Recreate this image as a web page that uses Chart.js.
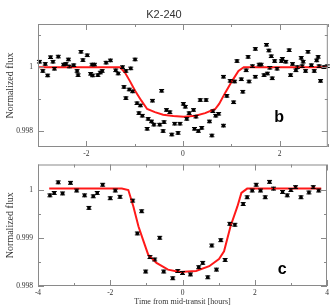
<!DOCTYPE html>
<html>
<head>
<meta charset="utf-8">
<script src="https://cdn.jsdelivr.net/npm/chart.js@4.4.0/dist/chart.umd.min.js"></script>
<style>
  html, body { margin: 0; padding: 0; background: #fff; }
  #wrap { position: relative; width: 333px; height: 307px; overflow: hidden; }
  canvas { position: absolute; left: 0; }
</style>
</head>
<body>
<div id="wrap">
  <canvas id="chartB" width="333" height="160" style="top:0px"></canvas>
  <canvas id="chartC" width="333" height="152" style="top:155px"></canvas>
</div>
<script>
const title = "K2-240";
const yTitle = "Normalized flux";
const xTitle = "Time from mid-transit [hours]";

// panel b: observed points
const timeB = [-2.97, -2.90, -2.85, -2.80, -2.74, -2.69, -2.66, -2.58, -2.47, -2.42, -2.37, -2.35, -2.26, -2.19, -2.17,
  -2.11, -2.07, -1.98, -1.91, -1.88, -1.83, -1.87, -1.76, -1.71, -1.67, -1.59, -1.50, -1.39, -1.34, -1.25,
  -1.22, -1.18, -1.18, -1.11, -1.08, -1.04, -0.99, -0.95, -0.91, -0.88, -0.84, -0.74, -0.72, -0.65, -0.63,
  -0.60, -0.48, -0.44, -0.41, -0.39, -0.34, -0.27, -0.23, -0.17, -0.10, -0.06, 0.01, 0.05, 0.08, 0.13,
  0.22, 0.24, 0.27, 0.32, 0.36, 0.39, 0.48, 0.55, 0.60, 0.62, 0.68, 0.74, 0.84, 0.84, 0.91,
  0.98, 1.05, 1.07, 1.12, 1.21, 1.24, 1.31, 1.35, 1.37, 1.44, 1.50, 1.50, 1.58, 1.62, 1.68,
  1.73, 1.75, 1.78, 1.80, 1.83, 1.85, 1.90, 1.95, 2.04, 2.06, 2.13, 2.20, 2.23, 2.27, 2.34,
  2.37, 2.45, 2.47, 2.49, 2.54, 2.59, 2.66, 2.72, 2.77, 2.80, 2.82, 2.85, 2.92, 2.99];
const fluxB = [1.00017, 0.99988, 1.00010, 0.99974, 1.00031, 1.00017, 0.99995, 1.00033, 1.00008, 1.00010, 1.00024, 1.00002, 1.00006, 0.99988, 0.99975,
  1.00048, 1.00022, 1.00037, 0.99979, 1.00008, 1.00008, 0.99974, 0.99975, 0.99983, 0.99988, 1.00014, 1.00021, 0.99990, 0.99980, 1.00000,
  0.99938, 0.99988, 0.99903, 0.99930, 0.99996, 0.99924, 1.00024, 0.99887, 0.99856, 0.99880, 0.99848, 0.99807, 0.99838, 0.99830, 0.99895,
  0.99820, 0.99820, 0.99926, 0.99800, 0.99828, 0.99866, 0.99859, 0.99789, 0.99823, 0.99794, 0.99823, 0.99885, 0.99876, 0.99838, 0.99856,
  0.99866, 0.99807, 0.99845, 0.99800, 0.99897, 0.99810, 0.99897, 0.99830, 0.99786, 0.99862, 0.99848, 0.99854, 0.99817, 0.99970, 0.99910,
  0.99957, 0.99890, 0.99955, 1.00019, 0.99962, 0.99923, 0.99990, 1.00032, 0.99955, 1.00003, 1.00057, 0.99970, 1.00008, 1.00008, 0.99975,
  1.00070, 0.99980, 1.00052, 0.99998, 1.00034, 0.99965, 1.00019, 0.99995, 1.00019, 1.00026, 1.00017, 1.00053, 0.99975, 1.00010, 0.99990,
  1.00000, 1.00029, 1.00003, 1.00017, 0.99988, 1.00048, 1.00006, 0.99988, 1.00021, 1.00032, 1.00003, 0.99957, 1.00000, 1.00003];
// panel b: transit model
const modelTimeB = [-3, -1.31, -1.20, -1.10, -0.99, -0.86, -0.74, -0.58, -0.41, -0.20, 0.02, 0.26, 0.46, 0.67, 0.75, 0.88, 1.02, 1.15, 1.26, 3];
const modelFluxB = [1.0, 1.0, 0.99983, 0.99957, 0.99926, 0.99895, 0.99869, 0.99859, 0.99851, 0.99847, 0.99845, 0.99848, 0.99856, 0.99869, 0.99885, 0.99921, 0.99957, 0.99988, 1.0, 1.0];
const errB = 0.00004;

// panel c: observed points
const timeC = [-3.67, -3.55, -3.44, -3.32, -3.10, -2.93, -2.71, -2.59, -2.47, -2.36, -2.21, -2.00, -1.86, -1.73, -1.38,
  -1.25, -1.13, -1.02, -0.90, -0.77, -0.63, -0.52, -0.27, -0.13, 0.00, 0.22, 0.45, 0.56, 0.70, 0.81,
  0.94, 1.06, 1.18, 1.31, 1.45, 1.68, 1.79, 1.93, 2.04, 2.16, 2.29, 2.41, 2.52, 2.77, 2.90,
  3.00, 3.13, 3.28, 3.50, 3.62, 3.77];
const fluxC = [0.99988, 0.99993, 1.00015, 0.99992, 1.00014, 0.99998, 0.99988, 0.99962, 0.99986, 0.99993, 1.00010, 0.99982, 0.99998, 0.99985, 0.99977,
  0.99909, 0.99955, 0.99830, 0.99860, 0.99855, 0.99900, 0.99830, 0.99816, 0.99831, 0.99827, 0.99824, 0.99839, 0.99848, 0.99818, 0.99884,
  0.99834, 0.99895, 0.99854, 0.99929, 0.99927, 0.99970, 0.99984, 0.99998, 1.00010, 0.99998, 0.99984, 1.00016, 1.00002, 0.99995, 0.99988,
  0.99999, 1.00005, 0.99984, 0.99994, 1.00005, 0.99998];
// panel c: transit model
const modelTimeC = [-3.69, -1.68, -1.50, -1.36, -1.22, -1.08, -0.95, -0.72, -0.40, -0.08, 0.375, 0.74, 1.01, 1.15, 1.33, 1.52, 1.63, 1.79, 3.84];
const modelFluxC = [1.00002, 1.00002, 0.99999, 0.99965, 0.99924, 0.99893, 0.99865, 0.99848, 0.99834, 0.99829, 0.99831, 0.99841, 0.99856, 0.99872, 0.99924, 0.99965, 0.99993, 1.00002, 1.00002];
const errC = 0.00003;

// ticks
const xTicksB = [-3, -2, -1, 0, 1, 2, 3];
const xLabelsB = ["", "-2", "", "0", "", "2", ""];
const yTicksB = [0.998, 0.999, 1, 1.001];
const yLabelsB = ["0.998", "", "1", ""];
const xTicksC = [-4, -3, -2, -1, 0, 1, 2, 3, 4];
const xLabelsC = ["-4", "", "-2", "", "0", "", "2", "", "4"];
const yTicksC = [0.998, 0.9985, 0.999, 0.9995, 1];
const yLabelsC = ["0.998", "", "0.999", "", "1"];

const serif = "'Liberation Serif', 'DejaVu Serif', serif";
const sans = "'Liberation Sans', Arial, sans-serif";

// frame, inward tick marks, error bar caps and panel letter
const decor = {
  id: "decor",
  afterDatasetsDraw(chart, args, opts) {
    const { ctx, chartArea: a, scales } = chart;
    const x = scales.x, y = scales.y;
    ctx.save();
    // error bars on observed points
    const meta = chart.getDatasetMeta(0);
    const vals = chart.data.datasets[0].data;
    ctx.strokeStyle = "#000";
    ctx.lineWidth = 1;
    ctx.beginPath();
    meta.data.forEach((el, i) => {
      const yt = y.getPixelForValue(vals[i].y + opts.err);
      const yb = y.getPixelForValue(vals[i].y - opts.err);
      ctx.moveTo(el.x, yt); ctx.lineTo(el.x, yb);
      ctx.moveTo(el.x - 2.5, yt); ctx.lineTo(el.x + 2.5, yt);
      ctx.moveTo(el.x - 2.5, yb); ctx.lineTo(el.x + 2.5, yb);
    });
    ctx.stroke();

    ctx.strokeStyle = "#8a8a8a";
    ctx.strokeRect(a.left + 0.5, a.top + 0.5, a.right - a.left - 1, a.bottom - a.top - 1);
    ctx.beginPath();
    x.ticks.forEach((t, i) => {
      const len = opts.xLabels[i] ? 6 : 3;
      const px = Math.round(x.getPixelForValue(t.value)) + 0.5;
      ctx.moveTo(px, a.bottom); ctx.lineTo(px, a.bottom - len);
      ctx.moveTo(px, a.top); ctx.lineTo(px, a.top + len);
    });
    y.ticks.forEach((t, i) => {
      const len = opts.yLabels[i] ? 6 : 3;
      const py = Math.round(y.getPixelForValue(t.value)) + 0.5;
      ctx.moveTo(a.left, py); ctx.lineTo(a.left + len, py);
      ctx.moveTo(a.right, py); ctx.lineTo(a.right - len, py);
    });
    ctx.stroke();

    ctx.fillStyle = "#000";
    ctx.font = "bold 16px " + sans;
    ctx.textBaseline = "alphabetic";
    ctx.fillText(opts.letter, a.left + (a.right - a.left) * opts.lx, a.top + (a.bottom - a.top) * opts.ly);
    ctx.restore();
  }
};

function panel(id, p) {
  return new Chart(document.getElementById(id), {
    type: "scatter",
    data: {
      datasets: [
        {
          data: p.t.map((v, i) => ({ x: v, y: p.f[i] })),
          pointStyle: "star",
          pointRadius: 1.8,
          borderColor: "#000",
          backgroundColor: "#000",
          pointBorderWidth: 1.2,
          order: 2
        },
        {
          type: "line",
          data: p.mt.map((v, i) => ({ x: v, y: p.mf[i] })),
          borderColor: "rgba(255,0,0,0.9)",
          borderWidth: 2,
          pointRadius: 0,
          tension: 0,
          fill: false,
          order: 1
        }
      ]
    },
    options: {
      responsive: false,
      animation: false,
      events: [],
      layout: { padding: p.pad },
      plugins: {
        legend: { display: false },
        tooltip: { enabled: false },
        title: p.title
          ? { display: true, text: p.title, color: "#333", font: { family: sans, size: 11, weight: "normal", lineHeight: 1 }, padding: { top: 9, bottom: 4 } }
          : { display: false },
        decor: { err: p.err, xLabels: p.xl, yLabels: p.yl, letter: p.letter, lx: p.lx, ly: p.ly }
      },
      scales: {
        x: {
          type: "linear",
          min: p.xmin,
          max: p.xmax,
          grid: { display: false, drawTicks: false },
          border: { display: false },
          afterBuildTicks: s => { s.ticks = p.xt.map(v => ({ value: v })); },
          afterFit: s => { s.height = p.xh; },
          ticks: {
            autoSkip: false,
            maxRotation: 0,
            padding: 3,
            color: "#333",
            font: { family: serif, size: 7.5 },
            callback: (v, i) => p.xl[i]
          },
          title: p.xTitle
            ? { display: true, text: p.xTitle, color: "#333", font: { family: serif, size: 8 }, padding: { top: 1, bottom: 0 } }
            : { display: false }
        },
        y: {
          type: "linear",
          min: p.ymin,
          max: p.ymax,
          grid: { display: false, drawTicks: false },
          border: { display: false },
          afterBuildTicks: s => { s.ticks = p.yt.map(v => ({ value: v })); },
          afterFit: s => { s.width = 38; },
          ticks: {
            autoSkip: false,
            padding: 5,
            color: "#333",
            font: { family: serif, size: 7.5 },
            callback: (v, i) => p.yl[i]
          },
          title: { display: true, text: yTitle, color: "#333", font: { family: serif, size: 10 }, padding: { top: 4, bottom: 0 } }
        }
      }
    },
    plugins: [decor]
  });
}

panel("chartB", {
  t: timeB, f: fluxB, mt: modelTimeB, mf: modelFluxB, err: errB,
  xmin: -3, xmax: 3, ymin: 0.9975, ymax: 1.00135,
  xt: xTicksB, xl: xLabelsB, yt: yTicksB, yl: yLabelsB,
  title: title, xTitle: null, xh: 13,
  pad: { top: 0, right: 5, left: 0, bottom: 0 },
  letter: "b", lx: 0.815, ly: 0.8
});

panel("chartC", {
  t: timeC, f: fluxC, mt: modelTimeC, mf: modelFluxC, err: errC,
  xmin: -4, xmax: 4, ymin: 0.998, ymax: 1.00052,
  xt: xTicksC, xl: xLabelsC, yt: yTicksC, yl: yLabelsC,
  title: null, xTitle: xTitle, xh: 21,
  pad: { top: 8, right: 6, left: 0, bottom: 0 },
  letter: "c", lx: 0.83, ly: 0.9
});
</script>
</body>
</html>
